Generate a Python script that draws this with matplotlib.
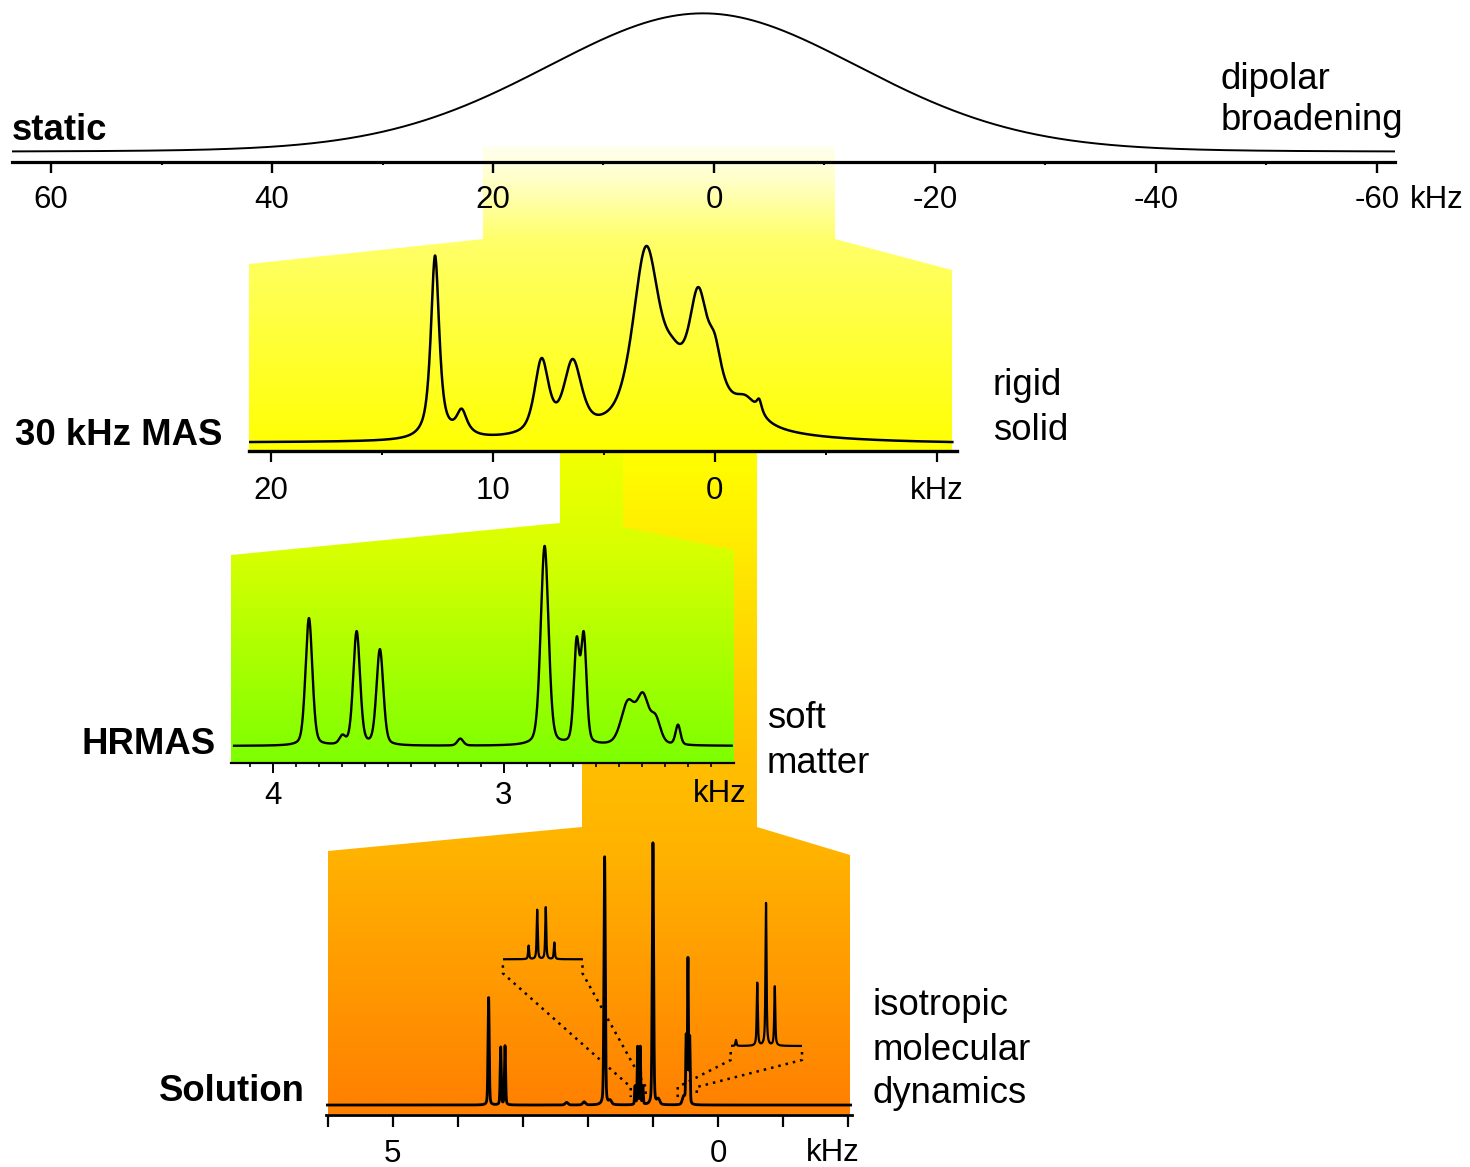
import numpy as np
import matplotlib
matplotlib.use("Agg")
import matplotlib.pyplot as plt
from matplotlib.patches import Polygon
from matplotlib.colors import to_rgb

plt.rcParams['font.family'] = ['Liberation Sans', 'DejaVu Sans']

# ---------------- data ----------------
# static spectrum: broad dipolar line (kHz)
static_centers = [1.0, 1.0]
static_heights = [0.88, 0.12]
static_fwhm = [34.4, 30.0]
static_eta = [0.0, 1.0]
static_major = [60, 40, 20, 0, -20, -40, -60]
static_labels = ['60', '40', '20', '0', '-20', '-40', '-60']
static_minor = [50, 30, 10, -10, -30, -50]

# 30 kHz MAS spectrum (kHz)
mas_centers = [12.6, 11.4, 7.8, 6.4, 3.1, 1.9, 0.75, 0.0, -1.4, -2.0, 1.5]
mas_heights = [0.93, 0.13, 0.37, 0.35, 0.86, 0.16, 0.58, 0.22, 0.12, 0.07, 0.08]
mas_fwhm = [0.45, 0.6, 0.75, 0.95, 1.4, 1.2, 1.1, 0.8, 1.4, 0.3, 8.0]
mas_eta = [0.8, 1.0, 0.6, 0.6, 0.6, 1.0, 1.0, 1.0, 1.0, 1.0, 1.0]
mas_major = [20, 10, 0, -10]
mas_labels = ['20', '10', '0', 'kHz']
mas_minor = [15, 5, -5]

# HRMAS spectrum (kHz)
hr_centers = [3.845, 3.70, 3.638, 3.537, 3.188, 2.822, 2.683, 2.652, 2.46, 2.395, 2.34, 2.243]
hr_heights = [0.64, 0.04, 0.57, 0.48, 0.035, 1.0, 0.50, 0.53, 0.21, 0.23, 0.12, 0.10]
hr_fwhm = [0.035, 0.03, 0.035, 0.035, 0.03, 0.04, 0.028, 0.028, 0.07, 0.06, 0.05, 0.025]
hr_major = [4, 3]
hr_labels = ['4', '3']
hr_minor = [4.1, 3.9, 3.8, 3.7, 3.6, 3.5, 3.4, 3.3, 3.2, 3.1,
            2.9, 2.8, 2.7, 2.6, 2.5, 2.4, 2.3, 2.2, 2.1]

# Solution spectrum (kHz)
sol_centers = [3.527, 3.341, 3.275, 1.745,
               1.278, 1.238, 1.198, 1.158,
               1.003, 0.492, 0.465, 0.438,
               2.33, 2.06, 1.66, 0.92, 0.53]
sol_heights = [0.41, 0.22, 0.225, 0.947,
               0.07, 0.22, 0.22, 0.07,
               1.0, 0.25, 0.55, 0.25,
               0.01, 0.012, 0.015, 0.02, 0.03]
sol_fwhm = [0.022, 0.02, 0.02, 0.024,
            0.016, 0.016, 0.016, 0.016,
            0.024, 0.016, 0.016, 0.016,
            0.05, 0.05, 0.05, 0.05, 0.05]
sol_major = [6, 5, 4, 3, 2, 1, 0, -1, -2]
sol_labels = ['', '5', '', '', '', '', '0', '', '']

# expanded multiplets (units of J) and the windows they come from (kHz)
quart_offsets = [-1.5, -0.5, 0.5, 1.5]
quart_heights = [0.26, 0.95, 1.0, 0.32]
quart_window = [1.344, 1.114]
trip_offsets = [-3.43, -1.0, 0.0, 1.0]
trip_heights = [0.042, 0.44, 1.0, 0.415]
trip_window = [0.622, 0.330]

# ---------------- helpers ----------------
W, H = 1470, 1167
fig = plt.figure(figsize=(W / 100, H / 100), dpi=100)
bg = fig.add_axes([0, 0, 1, 1])
bg.axis('off')


def pv(x, centers, heights, widths, eta):
    if np.isscalar(eta):
        eta = [eta] * len(centers)
    y = np.zeros_like(x)
    for c, h, w, e in zip(centers, heights, widths, eta):
        d = (x - c) / (w / 2.0)
        y += h * (e / (1.0 + d ** 2) + (1 - e) * np.exp(-np.log(2) * d ** 2))
    return y


def grad_poly(verts, stops, z=0):
    verts = np.array(verts, float)
    x0, x1 = verts[:, 0].min(), verts[:, 0].max()
    y0, y1 = verts[:, 1].min(), verts[:, 1].max()
    ys = np.linspace(y0, y1, 500)
    sy = [s[0] for s in stops]
    cols = np.array([to_rgb(s[1]) for s in stops])
    img = np.stack([np.interp(ys, sy, cols[:, k]) for k in range(3)], axis=-1)[:, None, :]
    im = bg.imshow(img, extent=(x0, x1, y1, y0), aspect='auto',
                   interpolation='bilinear', zorder=z, origin='upper')
    poly = Polygon(verts, closed=True, transform=bg.transData,
                   facecolor='none', edgecolor='none')
    bg.add_patch(poly)
    im.set_clip_path(poly)


def px_axes(l, r, t, b):
    ax = fig.add_axes([l / W, 1 - b / H, (r - l) / W, (b - t) / H])
    ax.set_facecolor('none')
    for s in ['top', 'left', 'right']:
        ax.spines[s].set_visible(False)
    ax.yaxis.set_visible(False)
    return ax


PT = 72 / 100.0  # points per pixel

# ---------------- coloured funnels ----------------
grad_poly([(483, 146), (835, 146), (835, 239), (952, 270), (952, 452),
           (249, 452), (249, 264), (483, 239)],
          [(146, '#FFFFF0'), (180, '#FFFFC8'), (239, '#FFFF6A'), (452, '#FFFF00')])
grad_poly([(582, 451), (757, 451), (757, 827), (850, 855), (850, 1114),
           (328, 1114), (328, 851), (582, 827)],
          [(451, '#FFFF00'), (560, '#FFE800'), (763, '#FFBE00'),
           (850, '#FFB300'), (1114, '#FF7F00')])
grad_poly([(560, 451), (623, 451), (623, 527), (734, 550), (734, 764),
           (231, 764), (231, 555), (560, 523)],
          [(451, '#F2FF00'), (555, '#D6FF00'), (764, '#7CFF00')])
bg.set_xlim(0, W)
bg.set_ylim(H, 0)

tick_font = 22.5

# ---------------- static ----------------
ax1 = px_axes(12, 1395, 0, 161.5)
x1 = np.linspace(63.5, -61.6, 2000)
ax1.plot(x1, pv(x1, static_centers, static_heights, static_fwhm, static_eta),
         color='black', lw=1.4)
ax1.set_xlim(63.53, -61.63)
ax1.set_ylim(-0.066, 1.096)
ax1.spines['bottom'].set_linewidth(2.3)
ax1.set_xticks(static_major, labels=static_labels)
ax1.set_xticks(static_minor, minor=True)
ax1.tick_params(which='major', length=11 * PT, width=1.7, pad=13 * PT, labelsize=tick_font)
ax1.tick_params(which='minor', length=3 * PT, width=1.5)

# ---------------- 30 kHz MAS ----------------
ax2 = px_axes(249, 957, 235, 450.7)
x2 = np.linspace(20.95, -10.7, 3000)
y2 = pv(x2, mas_centers, mas_heights, mas_fwhm, mas_eta)
y2 = y2 - np.interp(x2, [x2[-1], x2[0]], [y2[-1], y2[0]])
ax2.plot(x2, y2, color='black', lw=1.8)
ax2.set_xlim(20.98, -10.91)
ax2.set_ylim(-0.044, 1.051)
ax2.spines['bottom'].set_linewidth(2.4)
ax2.set_xticks(mas_major, labels=mas_labels)
ax2.set_xticks(mas_minor, minor=True)
ax2.tick_params(which='major', length=11 * PT, width=1.6, pad=14 * PT, labelsize=tick_font)
ax2.tick_params(which='minor', length=4 * PT, width=1.4)

# ---------------- HRMAS ----------------
ax3 = px_axes(231.4, 733.6, 520, 763.3)
x3 = np.linspace(4.17, 2.01, 4000)
ax3.plot(x3, pv(x3, hr_centers, hr_heights, hr_fwhm, 0.3), color='black', lw=1.7)
ax3.set_xlim(4.1816, 2.0017)
ax3.set_ylim(-0.087, 1.134)
ax3.spines['bottom'].set_linewidth(1.6)
ax3.set_xticks(hr_major, labels=hr_labels)
ax3.set_xticks(hr_minor, minor=True)
ax3.tick_params(which='major', length=10 * PT, width=1.4, pad=7.5 * PT, labelsize=tick_font)
ax3.tick_params(which='minor', length=4 * PT, width=1.2)

# ---------------- Solution ----------------
ax4 = px_axes(326, 852, 826, 1115)
x4 = np.linspace(6.02, -2.05, 24000)
ax4.plot(x4, pv(x4, sol_centers, sol_heights, sol_fwhm, 0.3), color='black', lw=2.0)
ax4.set_xlim(6.025, -2.055)
ax4.set_ylim(-0.038, 1.065)
ax4.spines['bottom'].set_linewidth(2.0)
ax4.set_xticks(sol_major, labels=sol_labels)
ax4.tick_params(which='major', length=11.7 * PT, width=1.6, pad=12.5 * PT, labelsize=tick_font)

# expanded multiplets
ax5 = px_axes(502.9, 582.5, 895, 965)
ax5.spines['bottom'].set_visible(False)
ax5.xaxis.set_visible(False)
x5 = np.linspace(-4.5, 4.79, 2000)
ax5.plot(x5, pv(x5, quart_offsets, quart_heights, [0.14] * 4, 0.7), color='black', lw=1.6)
ax5.set_xlim(-4.5, 4.79)
ax5.set_ylim(-0.11, 1.237)

ax6 = px_axes(730.7, 802, 890, 1060)
ax6.spines['bottom'].set_visible(False)
ax6.xaxis.set_visible(False)
x6 = np.linspace(-4.03, 4.11, 2000)
ax6.plot(x6, pv(x6, trip_offsets, trip_heights, [0.14] * 4, 0.7), color='black', lw=1.6)
ax6.set_xlim(-4.03, 4.11)
ax6.set_ylim(-0.098, 1.093)


def to_px(ax, x, y):
    X, Y = ax.transData.transform((x, y))
    return bg.transData.inverted().transform((X, Y))


for inset, lims, win in [(ax5, (-4.5, 4.79), quart_window), (ax6, (-4.03, 4.11), trip_window)]:
    for xin, xw in zip(lims, win):
        tx, ty = to_px(inset, xin, 0)
        bx, by = to_px(ax4, xw, 0)
        bg.plot([tx, tx, bx, bx], [ty + 6, ty + 14, by - 18, by - 8], color='black',
                lw=1.8, linestyle=(0, (1, 2)), zorder=3)

# ---------------- texts ----------------
lab = dict(fontsize=26.3, fontweight='bold', ha='left', va='baseline')
bg.text(12, 140, 'static', **lab)
bg.text(15, 445, '30 kHz MAS', **lab)
bg.text(82, 754, 'HRMAS', **lab)
bg.text(159, 1101, 'Solution', **lab)

rl = dict(fontsize=26.3, ha='left', va='baseline')
bg.text(1221, 89, 'dipolar', **rl)
bg.text(1221, 130, 'broadening', **rl)
bg.text(993, 395, 'rigid', **rl)
bg.text(993, 440, 'solid', **rl)
bg.text(767, 728, 'soft', **rl)
bg.text(767, 773, 'matter', **rl)
bg.text(873, 1015, 'isotropic', **rl)
bg.text(873, 1060, 'molecular', **rl)
bg.text(873, 1103, 'dynamics', **rl)

kl = dict(fontsize=tick_font, ha='left', va='baseline')
bg.text(1410, 208.3, 'kHz', **kl)
bg.text(693, 801.7, 'kHz', **kl)
bg.text(805.7, 1161, 'kHz', **kl)

fig.savefig('out.png', dpi=100)
